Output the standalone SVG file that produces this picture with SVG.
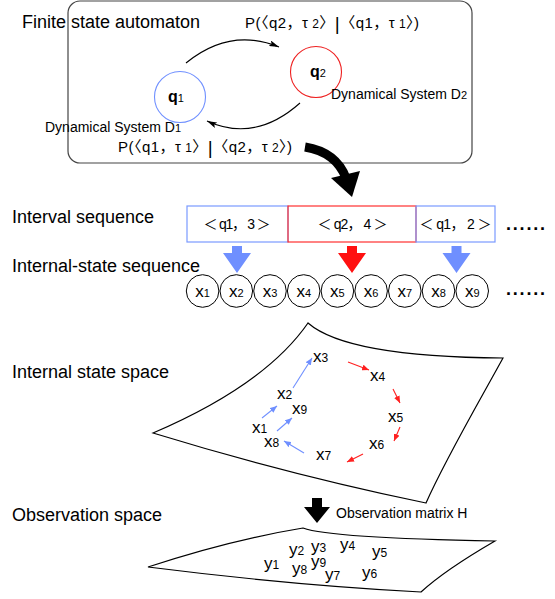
<svg xmlns="http://www.w3.org/2000/svg" width="555" height="599" viewBox="0 0 555 599">
<defs>
<style>
text{font-family:"Liberation Sans","Noto Sans CJK JP",Arial,sans-serif;fill:#000}
.sec{font-size:18px}
.lbl{font-size:14px}
.s11{font-size:11px}
.s12{font-size:12px}
.cj{font-size:15px}
.bar{font-size:19px}
.q{font-size:16px;font-weight:bold}
.xs{font-size:17px}
.xc{font-size:17px}
.seqc{fill:#fff;stroke:#000;stroke-width:1}
.surf{fill:#fff;stroke:#000;stroke-width:1.2}
.arc{fill:none;stroke:#000;stroke-width:1.1}
.ba{fill:none;stroke:#6f8fff;stroke-width:1.1}
.ra{fill:none;stroke:#ff2020;stroke-width:1.1}
.dots{font-size:18px;font-weight:bold}
</style>
<marker id="mk" viewBox="0 0 10 10" refX="10" refY="5" markerWidth="10" markerHeight="6" orient="auto" markerUnits="userSpaceOnUse" preserveAspectRatio="none"><path d="M0,0 L10,5 L0,10 L2,5 Z" fill="#000"/></marker>
<marker id="mb" viewBox="0 0 10 10" refX="10" refY="5" markerWidth="7" markerHeight="6" orient="auto" markerUnits="userSpaceOnUse" preserveAspectRatio="none"><path d="M0,0 L10,5 L0,10 Z" fill="#6f8fff"/></marker>
<marker id="mr" viewBox="0 0 10 10" refX="10" refY="5" markerWidth="7" markerHeight="6" orient="auto" markerUnits="userSpaceOnUse" preserveAspectRatio="none"><path d="M0,0 L10,5 L0,10 Z" fill="#ff2020"/></marker>
</defs>

<rect width="555" height="599" fill="#fff"/>

<!-- Section labels -->
<g id="section-labels">
<text class="sec" x="22" y="28">Finite state automaton</text>
<text class="sec" x="12" y="223">Interval sequence</text>
<text class="sec" x="12" y="272">Internal-state sequence</text>
<text class="sec" x="12" y="378">Internal state space</text>
<text class="sec" x="12" y="521">Observation space</text>
</g>

<!-- Automaton -->
<g id="automaton">
<rect x="68" y="1" width="404" height="162" rx="12" ry="12" fill="none" stroke="#444" stroke-width="1.2"/>
</g>
<g id="q1">
<circle cx="180" cy="97" r="25.5" fill="none" stroke="#7090ff" stroke-width="1.1"/>
<text class="q" x="168" y="102">q<tspan class="s11" font-weight="normal">1</tspan></text>
<text class="lbl" x="45" y="132">Dynamical System D<tspan class="s11">1</tspan></text>
</g>
<g id="q2">
<circle cx="316" cy="72" r="25.5" fill="none" stroke="#ee2020" stroke-width="1.1"/>
<text class="q" x="310" y="77">q<tspan class="s11" font-weight="normal">2</tspan></text>
<text class="lbl" x="331" y="99">Dynamical System D<tspan class="s11">2</tspan></text>
</g>
<g id="transition-labels">
<text class="cj" x="245" y="28" textLength="174" lengthAdjust="spacing">P(〈q2，τ<tspan class="s12"> 2</tspan>〉<tspan class="bar" dy="2">|</tspan><tspan dy="-2">〈q1，τ</tspan><tspan class="s12"> 1</tspan>〉)</text>
<text class="cj" x="118" y="152" textLength="174" lengthAdjust="spacing">P(〈q1，τ<tspan class="s12"> 1</tspan>〉<tspan class="bar" dy="2">|</tspan><tspan dy="-2">〈q2，τ</tspan><tspan class="s12"> 2</tspan>〉)</text>
</g>

<!-- Interval sequence -->
<g id="interval-1">
<rect x="187" y="206" width="101" height="36" fill="#fff" stroke="#7a9aff" stroke-width="1.2"/>
<text class="lbl" x="237" y="229" text-anchor="middle" textLength="67" lengthAdjust="spacing">＜ q1， 3 ＞</text>
</g>
<g id="interval-2">
<rect x="288" y="206" width="128" height="36" fill="none" stroke="#ff3030" stroke-width="1.2"/>
<text class="lbl" x="352.5" y="229" text-anchor="middle" textLength="70" lengthAdjust="spacing">＜ q2， 4 ＞</text>
</g>
<g id="interval-3">
<rect x="416" y="206" width="79" height="36" fill="none" stroke="#7a9aff" stroke-width="1.2"/>
<text class="lbl" x="455.5" y="229" text-anchor="middle" textLength="72" lengthAdjust="spacing">＜ q1， 2 ＞</text>
</g>
<text class="dots" x="506" y="230" textLength="39" lengthAdjust="spacing">......</text>

<!-- Internal-state sequence -->
<g id="seq-x1"><circle class="seqc" cx="202.6" cy="291" r="16.3"/><text class="xc" x="202.6" y="297" text-anchor="middle">x<tspan class="s11">1</tspan></text></g>
<g id="seq-x2"><circle class="seqc" cx="236.3" cy="291" r="16.3"/><text class="xc" x="236.3" y="297" text-anchor="middle">x<tspan class="s11">2</tspan></text></g>
<g id="seq-x3"><circle class="seqc" cx="270" cy="291" r="16.3"/><text class="xc" x="270" y="297" text-anchor="middle">x<tspan class="s11">3</tspan></text></g>
<g id="seq-x4"><circle class="seqc" cx="303.7" cy="291" r="16.3"/><text class="xc" x="303.7" y="297" text-anchor="middle">x<tspan class="s11">4</tspan></text></g>
<g id="seq-x5"><circle class="seqc" cx="337.4" cy="291" r="16.3"/><text class="xc" x="337.4" y="297" text-anchor="middle">x<tspan class="s11">5</tspan></text></g>
<g id="seq-x6"><circle class="seqc" cx="371.1" cy="291" r="16.3"/><text class="xc" x="371.1" y="297" text-anchor="middle">x<tspan class="s11">6</tspan></text></g>
<g id="seq-x7"><circle class="seqc" cx="404.8" cy="291" r="16.3"/><text class="xc" x="404.8" y="297" text-anchor="middle">x<tspan class="s11">7</tspan></text></g>
<g id="seq-x8"><circle class="seqc" cx="438.5" cy="291" r="16.3"/><text class="xc" x="438.5" y="297" text-anchor="middle">x<tspan class="s11">8</tspan></text></g>
<g id="seq-x9"><circle class="seqc" cx="472.2" cy="291" r="16.3"/><text class="xc" x="472.2" y="297" text-anchor="middle">x<tspan class="s11">9</tspan></text></g>
<text class="dots" x="506" y="295" textLength="39" lengthAdjust="spacing">......</text>

<!-- Internal state space surface -->
<g id="state-space">
<path class="surf" d="M153,433 Q265,385 308,323 Q347,357 503,358 C480,400 445,460 426,503 Q290,475 153,433 Z"/>
<text class="xs" x="313" y="362">x<tspan class="s12">3</tspan></text>
<text class="xs" x="370" y="381">x<tspan class="s12">4</tspan></text>
<text class="xs" x="388" y="422">x<tspan class="s12">5</tspan></text>
<text class="xs" x="369" y="449">x<tspan class="s12">6</tspan></text>
<text class="xs" x="316" y="460">x<tspan class="s12">7</tspan></text>
<text class="xs" x="264" y="447">x<tspan class="s12">8</tspan></text>
<text class="xs" x="252" y="433">x<tspan class="s12">1</tspan></text>
<text class="xs" x="292" y="414">x<tspan class="s12">9</tspan></text>
<text class="xs" x="277" y="399">x<tspan class="s12">2</tspan></text>
</g>

<!-- Observation space surface -->
<g id="observation-space">
<path class="surf" d="M148,567 Q230,540 303,528 Q330,538 495,541 Q445,570 421,592 Q290,585 148,567 Z"/>
<text class="xs" x="264" y="569">y<tspan class="s12">1</tspan></text>
<text class="xs" x="289" y="555">y<tspan class="s12">2</tspan></text>
<text class="xs" x="311" y="552">y<tspan class="s12">3</tspan></text>
<text class="xs" x="340" y="550">y<tspan class="s12">4</tspan></text>
<text class="xs" x="372" y="557">y<tspan class="s12">5</tspan></text>
<text class="xs" x="362" y="578">y<tspan class="s12">6</tspan></text>
<text class="xs" x="325" y="580">y<tspan class="s12">7</tspan></text>
<text class="xs" x="292" y="574">y<tspan class="s12">8</tspan></text>
<text class="xs" x="311" y="567">y<tspan class="s12">9</tspan></text>
<text class="lbl" x="336" y="518">Observation matrix H</text>
</g>

<!-- Connectors -->
<g id="connectors">
<path class="arc" d="M186,63 Q230,27 279,47" marker-end="url(#mk)"/>
<path class="arc" d="M300,103 Q255,143 207,121" marker-end="url(#mk)"/>
<path d="M305,147 Q336,152 346,178" fill="none" stroke="#000" stroke-width="9"/>
<polygon points="331,178 360,171 352,197" fill="#000"/>
<polygon points="232,246 242,246 242,253 251,253 237,273 223,253 232,253" fill="#6f8fff"/>
<polygon points="347,246 357,246 357,253 366,253 352,273 338,253 347,253" fill="#ff1010"/>
<polygon points="451.5,246 461.5,246 461.5,253 470.5,253 456.5,273 442.5,253 451.5,253" fill="#6f8fff"/>
<polygon points="312,498 322,498 322,507 330,507 317,523 304,507 312,507" fill="#000"/>
<path class="ba" d="M262,418 L277,406" marker-end="url(#mb)"/>
<path class="ba" d="M293,388 L312,358" marker-end="url(#mb)"/>
<path class="ba" d="M277,431 L292,418" marker-end="url(#mb)"/>
<path class="ba" d="M304,453 L284,441" marker-end="url(#mb)"/>
<path class="ra" d="M348,362 L369,370" marker-end="url(#mr)"/>
<path class="ra" d="M393,389 L400,403" marker-end="url(#mr)"/>
<path class="ra" d="M400,427 L394,441" marker-end="url(#mr)"/>
<path class="ra" d="M363,454 L347,462" marker-end="url(#mr)"/>
</g>
</svg>
